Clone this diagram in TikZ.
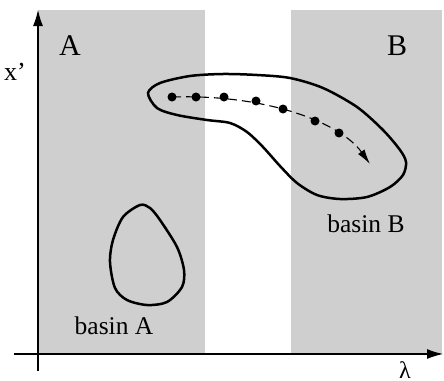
\documentclass[tikz,border=0pt]{standalone}
\usepackage{fontspec}
\setmainfont{Liberation Serif}
\usetikzlibrary{arrows.meta}
\begin{document}
\begin{tikzpicture}[x=1pt,y=-1pt,
  region/.style={fill=black!19,draw=none},
  axis/.style={line width=1.1pt,-{Latex[length=16pt,width=10pt]}},
  blob/.style={line width=2.5pt},
  dot/.style={circle,fill=black,inner sep=0pt,minimum size=9pt},
  lab/.style={font=\fontsize{30}{32}\selectfont,inner sep=0pt},
  blab/.style={font=\fontsize{25.5}{27}\selectfont,inner sep=0pt}]
\useasboundingbox (0,0) rectangle (444,380);
\fill[region] (38,10) rectangle (205,354);
\fill[region] (291,10) rectangle (442,354);
% axes
\coordinate (ybot) at (38,371);
\coordinate (ytop) at (38,10);
\coordinate (xl) at (14,354);
\coordinate (xr) at (443,354);
\draw[axis] (ybot) -- (ytop);
\draw[axis] (xl) -- (xr);
\node[lab] (lA) at (70,46) {A};
\node[lab] (lB) at (397,46) {B};
\node[lab,font=\fontsize{26}{28}\selectfont] (lx) at (15,72) {x’};
\node[lab,font=\fontsize{24}{26}\selectfont] (ll) at (405,370) {λ};
\node[blab] (bA) at (114,326) {basin A};
\node[blab] (bB) at (366,224) {basin B};
% big blob
\draw[blob] plot[smooth cycle,tension=0.5] coordinates {
 (148,93) (160,83) (190,76) (223,74) (257,75) (290,78) (323,88) (357,107)
 (383,130) (400,150) (406,162) (403,175) (390,187) (367,197) (340,199)
 (317,195) (297,183) (280,166) (263,147) (247,132) (230,123) (207,120)
 (177,115) (157,108)};
% small blob
\draw[blob] plot[smooth cycle,tension=0.5] coordinates {
 (140,205) (123,217) (113,240) (110,262) (115,288) (127,300) (147,305)
 (167,302) (182,287) (184,270) (177,247) (160,220) (150,208)};
% trajectory
\node[dot] (d1) at (172,97) {};
\node[dot] (d2) at (196,97) {};
\node[dot] (d3) at (224,97) {};
\node[dot] (d4) at (256,101) {};
\node[dot] (d5) at (283,109) {};
\node[dot] (d6) at (315,121) {};
\node[dot] (d7) at (339,133) {};
\coordinate (tip) at (370,164);
\draw[line width=1.1pt,dash pattern=on 9pt off 5pt,-{Latex[length=15pt,width=8pt]}]
 (d1.center) .. controls (265,94) and (340,122) .. (tip);
\end{tikzpicture}
\end{document}
